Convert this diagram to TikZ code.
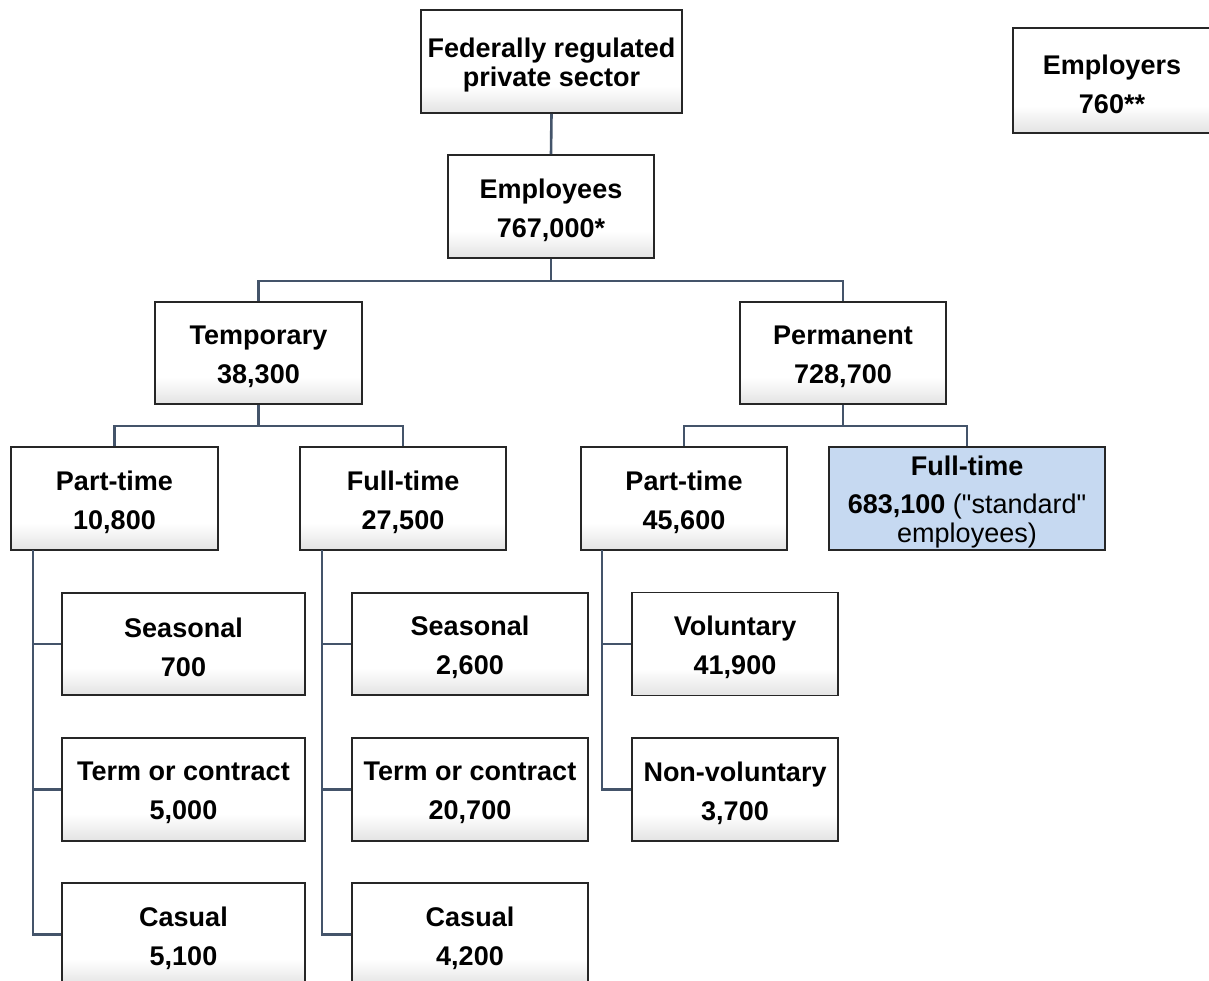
\documentclass[tikz,border=0pt]{standalone}
\usepackage{fontspec}
\newfontfamily\arialfont{Liberation Sans}
\definecolor{conn}{HTML}{44546A}
\definecolor{boxline}{HTML}{262626}
\definecolor{stdblue}{HTML}{C6D9F1}
\pgfdeclareverticalshading{boxshade}{100bp}{color(0bp)=(black!11); color(25bp)=(black!11); color(38bp)=(white); color(100bp)=(white)}
\begin{document}
\begin{tikzpicture}[x=1pt,y=-1pt,
  boxbase/.style={draw=boxline, line width=1.8pt, minimum height=103pt, inner sep=0pt},
  box/.style={boxbase, shading=boxshade},
  bluebox/.style={boxbase, fill=stdblue},
  lbl/.style={inner sep=0pt, align=center, yshift=-3.5pt,
    font=\arialfont\fontsize{27}{29}\selectfont\bfseries},
  link/.style={draw=conn, line width=2.6pt}]
\useasboundingbox (0,0) rectangle (1209,981);
\clip (0,0) rectangle (1209,981);

% nodes
\node[box, minimum width=261pt, label={[lbl]center:{Federally regulated\\private sector}}] (fed) at (551.5,61.5) {};
\node[box, minimum width=206pt, label={[lbl]center:{Employees\\[10pt]767,000*}}] (emp) at (551,206.5) {};
\node[box, minimum width=198pt, minimum height=105pt, label={[lbl]center:{Employers\\[10pt]760**}}] (empr) at (1112,80.5) {};

\node[box, minimum width=207pt, minimum height=102pt, label={[lbl]center:{Temporary\\[10pt]38,300}}] (temp) at (258.5,353) {};
\node[box, minimum width=206pt, minimum height=102pt, label={[lbl]center:{Permanent\\[10pt]728,700}}] (perm) at (843,353) {};

\node[box, minimum width=207pt, label={[lbl]center:{Part-time\\[10pt]10,800}}] (ptT) at (114.5,498.5) {};
\node[box, minimum width=206pt, label={[lbl]center:{Full-time\\[10pt]27,500}}] (ftT) at (403,498.5) {};
\node[box, minimum width=206pt, label={[lbl]center:{Part-time\\[10pt]45,600}}] (ptP) at (684,498.5) {};
\node[bluebox, minimum width=276pt, label={[lbl]center:{Full-time\\[9pt]683,100 {\mdseries ("standard"}\\{\mdseries employees)}}}] (ftP) at (967,498.5) {};

\node[box, minimum width=243pt, minimum height=102pt, label={[lbl]center:{Seasonal\\[10pt]700}}] (seasL) at (183.5,644) {};
\node[box, minimum width=243pt, label={[lbl]center:{Term or contract\\[10pt]5,000}}] (termL) at (183.5,789.5) {};
\node[box, minimum width=243pt, label={[lbl]center:{Casual\\[10pt]5,100}}] (casL) at (183.5,934.5) {};

\node[box, minimum width=236pt, minimum height=102pt, label={[lbl]center:{Seasonal\\[10pt]2,600}}] (seasR) at (470,644) {};
\node[box, minimum width=236pt, label={[lbl]center:{Term or contract\\[10pt]20,700}}] (termR) at (470,789.5) {};
\node[box, minimum width=236pt, label={[lbl]center:{Casual\\[10pt]4,200}}] (casR) at (470,934.5) {};

\node[box, minimum width=206pt, label={[lbl]center:{Voluntary\\[10pt]41,900}}] (vol) at (735,644) {};
\node[box, minimum width=206pt, label={[lbl]center:{Non-voluntary\\[10pt]3,700}}] (nvol) at (735,789.5) {};

% junction coordinates
\coordinate (j1) at (551,281);
\coordinate (j2) at (258.5,426);
\coordinate (j3) at (843,426);
\coordinate (vL) at (33,550);
\coordinate (vM) at (322,550);
\coordinate (vR) at (602,550);

% connectors
\draw[link] (fed.south) -- (emp.north);
\draw[link] (emp.south) -- (j1);
\draw[link] (temp.north) |- (j1) -| (perm.north);
\draw[link] (temp.south) -- (j2);
\draw[link] (ptT.north) |- (j2) -| (ftT.north);
\draw[link] (perm.south) -- (j3);
\draw[link] (ptP.north) |- (j3) -| (ftP.north);

\draw[link] (vL) |- (seasL.west);
\draw[link] (vL) |- (termL.west);
\draw[link] (vL) |- (casL.west);
\draw[link] (vM) |- (seasR.west);
\draw[link] (vM) |- (termR.west);
\draw[link] (vM) |- (casR.west);
\draw[link] (vR) |- (vol.west);
\draw[link] (vR) |- (nvol.west);
\end{tikzpicture}
\end{document}
